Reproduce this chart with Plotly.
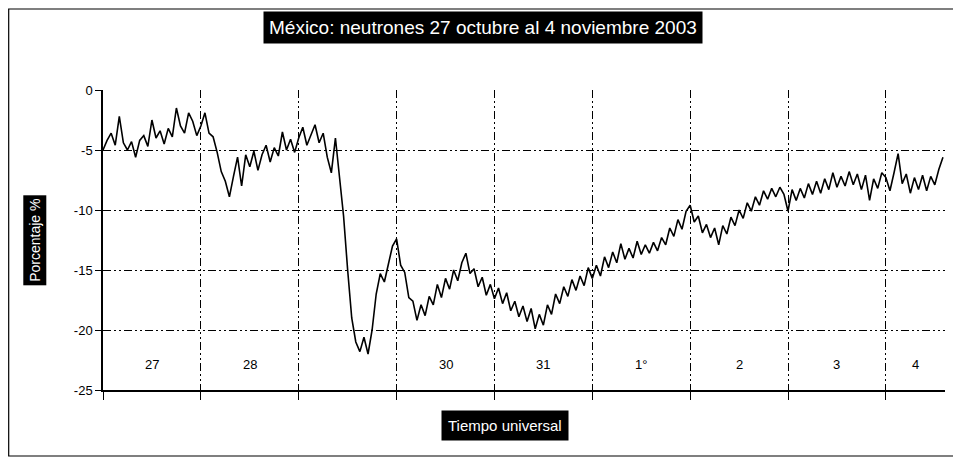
import plotly.graph_objects as go

# Hourly values (percent), hour 0 = start of 27 Oct
day_27 = [-5.0, -4.2, -3.6, -4.6, -2.2, -4.4, -5.0, -4.3, -5.6, -4.2, -3.8, -4.7,
          -2.5, -4.0, -3.4, -4.5, -3.2, -3.9, -1.5, -3.0, -3.6, -1.9, -2.6, -3.8]
day_28 = [-3.0, -1.9, -3.6, -3.9, -5.2, -6.8, -7.6, -8.9, -7.2, -5.6, -8.0, -5.4,
          -6.4, -5.1, -6.7, -5.4, -4.6, -6.0, -4.8, -5.5, -3.5, -5.0, -4.1, -5.2]
day_29 = [-4.0, -3.1, -4.6, -3.8, -2.9, -4.4, -3.6, -5.6, -6.9, -4.0, -7.3, -10.5,
          -15.0, -19.0, -21.0, -21.8, -20.6, -22.0, -20.0, -17.0, -15.3, -16.0, -14.5, -13.0]
day_30 = [-12.4, -14.6, -15.2, -17.3, -17.6, -19.2, -17.9, -18.8, -17.2, -17.9, -16.2, -17.3,
          -15.7, -16.6, -15.0, -15.9, -14.4, -13.6, -15.3, -14.9, -16.4, -15.6, -17.1, -16.2]
day_31 = [-17.4, -16.5, -17.8, -16.9, -18.4, -17.6, -18.9, -18.0, -19.3, -18.2, -19.9, -18.7,
          -19.6, -17.9, -18.7, -17.0, -17.8, -16.4, -17.2, -15.8, -16.7, -15.5, -16.3, -14.8]
day_01 = [-15.7, -14.6, -15.5, -13.9, -14.8, -13.5, -14.4, -12.8, -14.1, -13.2, -14.0, -12.6,
          -13.7, -12.9, -13.6, -12.7, -13.4, -12.3, -12.9, -11.5, -12.2, -10.8, -11.6, -10.1]
day_02 = [-9.6, -11.0, -10.5, -11.9, -11.2, -12.3, -11.5, -12.9, -11.3, -12.0, -10.6, -11.3,
          -10.0, -10.7, -9.4, -10.1, -8.9, -9.6, -8.4, -9.1, -8.2, -8.9, -8.1, -8.7]
day_03 = [-10.1, -8.3, -9.2, -8.2, -9.0, -7.8, -8.7, -7.6, -8.6, -7.4, -8.3, -6.9,
          -8.1, -7.2, -8.0, -6.8, -7.9, -7.0, -8.3, -7.1, -9.2, -7.4, -8.2, -6.9]
day_04 = [-7.3, -8.4, -6.9, -5.3, -7.8, -7.0, -8.6, -7.3, -8.3, -7.1, -8.4, -7.2,
          -7.9, -6.6, -5.6]

values = day_27 + day_28 + day_29 + day_30 + day_31 + day_01 + day_02 + day_03 + day_04
hours = list(range(len(values)))

day_labels = ["27", "28", "", "30", "31", "1°", "2", "3", "4"]
day_starts = [0, 24, 48, 72, 96, 120, 144, 168, 192]
x_end = 206.5
y_ticks = [-25, -20, -15, -10, -5, 0]
y_ticktext = ["-25", "-20", "-15", "-10", "-5", "0"]

title_text = "México: neutrones 27 octubre al 4 noviembre 2003"
x_title = "Tiempo universal"
y_title = "Porcentaje %"

fig = go.Figure()
fig.add_trace(go.Scatter(x=hours, y=values, mode="lines",
                         line=dict(color="black", width=1.6), showlegend=False,
                         hoverinfo="skip"))

FONT = "Liberation Sans, Arial, sans-serif"
griddash = "8px,3px,2px,3px,2px,3px"

for i, lab in enumerate(day_labels):
    if not lab:
        continue
    start = day_starts[i]
    end = day_starts[i + 1] if i + 1 < len(day_starts) else x_end
    fig.add_annotation(x=(start + end) / 2, y=-22.9, text=lab, showarrow=False,
                       font=dict(family=FONT, size=13, color="black"))

fig.add_annotation(xref="paper", yref="paper", x=0.451, y=1.207, text=title_text,
                   xanchor="center", yanchor="middle",
                   showarrow=False, bgcolor="black", borderpad=5,
                   font=dict(family=FONT, size=19, color="white"))
fig.add_annotation(xref="paper", yref="paper", x=0.477, y=-0.117, text=x_title,
                   xanchor="center", yanchor="middle",
                   showarrow=False, bgcolor="black", borderpad=6,
                   font=dict(family=FONT, size=15, color="white"))
fig.add_annotation(xref="paper", yref="paper", x=-0.081, y=0.5, text=y_title,
                   xanchor="center", yanchor="middle",
                   showarrow=False, bgcolor="black", borderpad=3, textangle=-90,
                   font=dict(family=FONT, size=14, color="white"))

# outer frame
fig.add_shape(type="rect", xref="paper", yref="paper", x0=-0.112, x1=1.0119,
              y0=-0.22, y1=1.27, line=dict(color="black", width=1.2))

fig.update_layout(
    width=953, height=453,
    margin=dict(l=95, r=16, t=82, b=71),
    paper_bgcolor="white", plot_bgcolor="white",
    xaxis=dict(range=[0, x_end], tickvals=day_starts, showticklabels=False,
               ticks="outside", ticklen=8, tickcolor="black", tickwidth=1.2,
               showgrid=True, gridcolor="black", gridwidth=1, griddash=griddash,
               showline=True, linecolor="black", linewidth=1.5, zeroline=False),
    yaxis=dict(range=[-25, 0], tickvals=y_ticks, ticktext=y_ticktext,
               ticks="outside", ticklen=6, tickcolor="black", tickwidth=1.2,
               tickfont=dict(family=FONT, size=13, color="black"),
               showgrid=True, gridcolor="black", gridwidth=1, griddash=griddash,
               showline=True, linecolor="black", linewidth=1.5, zeroline=False),
)

fig.write_html("out.html")
